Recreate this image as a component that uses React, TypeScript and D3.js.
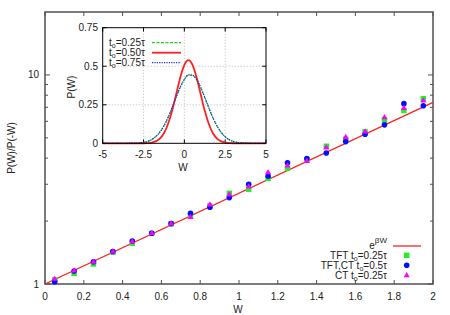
import React from "react";
import * as d3 from "d3";

// main panel: ratio P(W)/P(-W) vs W
const wValues = [0.05, 0.15, 0.25, 0.35, 0.45, 0.55, 0.65, 0.75, 0.85, 0.95, 1.05, 1.15, 1.25, 1.35, 1.45, 1.55, 1.65, 1.75, 1.85, 1.95];
const tftQuarter = [1.048, 1.125, 1.246, 1.42, 1.566, 1.745, 1.94, 2.11, 2.36, 2.716, 2.84, 3.2, 3.58, 3.92, 4.56, 4.93, 5.35, 6.09, 6.75, 7.7];
const tftCtHalf = [1.026, 1.154, 1.278, 1.43, 1.606, 1.75, 1.945, 2.18, 2.33, 2.59, 3.0, 3.28, 3.8, 3.98, 4.23, 4.8, 5.21, 5.77, 7.29, 7.12];
const ctQuarter = [1.057, 1.158, 1.274, 1.425, 1.594, 1.748, 1.942, 2.085, 2.395, 2.67, 2.92, 3.41, 3.68, 3.87, 4.49, 5.03, 5.35, 6.25, 6.92, 7.52];
const fitW = [0, 2];
const fitP = [1, 7.389];
const xTicks = [0, 0.2, 0.4, 0.6, 0.8, 1, 1.2, 1.4, 1.6, 1.8, 2];
const yTicks = [1, 10];
const yMinor = [2, 3, 4, 5, 6, 7, 8, 9];

// inset: P(W)
const insetW = [-5, -4, -3, -2.5, -2, -1.5, -1.25, -1, -0.75, -0.5, -0.25, 0, 0.25, 0.5, 0.75, 1, 1.25, 1.5, 1.75, 2, 2.5, 3, 3.5, 4, 5];
const pQuarter = [0, 0.0001, 0.0012, 0.0061, 0.0238, 0.072, 0.113, 0.167, 0.232, 0.3, 0.364, 0.414, 0.443, 0.441, 0.413, 0.362, 0.297, 0.229, 0.165, 0.112, 0.042, 0.012, 0.0027, 0.0005, 0];
const pHalf = [0, 0, 0, 0.0004, 0.0047, 0.031, 0.065, 0.125, 0.211, 0.318, 0.427, 0.509, 0.54, 0.509, 0.427, 0.318, 0.211, 0.125, 0.065, 0.031, 0.0047, 0.0004, 0, 0, 0];
const pThreeQuarter = [0, 0.0001, 0.0013, 0.0063, 0.024, 0.0725, 0.1135, 0.1675, 0.2325, 0.3005, 0.3645, 0.4145, 0.4435, 0.4415, 0.4135, 0.3625, 0.2975, 0.2295, 0.1655, 0.1125, 0.0425, 0.0122, 0.0028, 0.0005, 0];
const insetXTicks = [-5, -2.5, 0, 2.5, 5];
const insetYTicks = [0, 0.25, 0.5, 0.75];

const font = "'Liberation Sans', Arial, sans-serif";

const App = () => {
  const x = d3.scaleLinear().domain([0, 2]).range([45, 433]);
  const y = d3.scaleLog().domain([1, 20]).range([284, 12]);
  const ix = d3.scaleLinear().domain([-5, 5]).range([102.7, 266]);
  const iy = d3.scaleLinear().domain([0, 0.75]).range([143.3, 27.7]);

  const fitLine = d3.line<number>().x((d, i) => x(fitW[i])).y((d) => y(d));
  const insetLine = d3
    .line<number>()
    .x((d, i) => ix(insetW[i]))
    .y((d) => iy(d))
    .curve(d3.curveMonotoneX);

  const tri = d3.symbol().type(d3.symbolTriangle).size(16)();
  const axisColor = "#505050";

  // t with subscript o
  const sub = (val: string) => (
    <>
      t<tspan dy={2} fontSize={7}>o</tspan>
      <tspan dy={-2}>{val}</tspan>
    </>
  );

  return (
    <div style={{ position: "fixed", left: 0, top: 0 }}>
      <svg width={450} height={315} style={{ fontFamily: font, display: "block" }}>
        <rect width={450} height={315} fill="white" />

        {/* main ticks */}
        {xTicks.map((t) => (
          <g key={"xt" + t}>
            <line x1={x(t)} x2={x(t)} y1={284} y2={280} stroke={axisColor} />
            <line x1={x(t)} x2={x(t)} y1={12} y2={16} stroke={axisColor} />
            <text x={x(t)} y={300} fontSize={10} textAnchor="middle" fill="#222">
              {t}
            </text>
          </g>
        ))}
        {yTicks.map((t) => (
          <g key={"yt" + t}>
            <line x1={45} x2={50} y1={y(t)} y2={y(t)} stroke={axisColor} />
            <line x1={433} x2={428} y1={y(t)} y2={y(t)} stroke={axisColor} />
            <text x={39} y={y(t) + 3.5} fontSize={10} textAnchor="end" fill="#222">
              {t}
            </text>
          </g>
        ))}
        {yMinor.map((t) => (
          <g key={"ym" + t}>
            <line x1={45} x2={48} y1={y(t)} y2={y(t)} stroke={axisColor} />
            <line x1={433} x2={430} y1={y(t)} y2={y(t)} stroke={axisColor} />
          </g>
        ))}
        <rect x={45} y={12} width={388} height={272} fill="none" stroke={axisColor} strokeWidth={1.5} />

        <text x={238} y={313} fontSize={10} textAnchor="middle" fill="#222">W</text>
        <text transform="translate(15,148) rotate(-90)" fontSize={10} textAnchor="middle" fill="#222">
          P(W)/P(-W)
        </text>

        {/* fit line */}
        <path d={fitLine(fitP) ?? ""} fill="none" stroke="#ff2020" strokeWidth={1.3} />

        {/* data points */}
        {tftQuarter.map((v, i) => (
          <rect key={"g" + i} x={x(wValues[i]) - 2.7} y={y(v) - 2.7} width={5.4} height={5.4} fill="#22ee22" />
        ))}
        {tftCtHalf.map((v, i) => (
          <circle key={"b" + i} cx={x(wValues[i])} cy={y(v)} r={2.8} fill="#0010ff" />
        ))}
        {ctQuarter.map((v, i) => (
          <path key={"m" + i} d={tri ?? ""} transform={`translate(${x(wValues[i])},${y(v)})`} fill="#ff00ff" />
        ))}

        {/* main legend */}
        <g fontSize={10} fill="#222" textAnchor="end">
          <text x={387} y={249}>
            e<tspan dy={-6} fontSize={8}>βW</tspan>
          </text>
          <line x1={393} x2={421} y1={246} y2={246} stroke="#ff2020" strokeWidth={1.3} />
          <text x={387} y={258.5}>TFT {sub("=0.25τ")}</text>
          <rect x={404} y={252.6} width={5.4} height={5.4} fill="#22ee22" />
          <text x={387} y={268.5}>TFT,CT {sub("=0.5τ")}</text>
          <circle cx={406.7} cy={265.3} r={2.8} fill="#0010ff" />
          <text x={387} y={278.5}>CT {sub("=0.25τ")}</text>
          <path d={tri ?? ""} transform="translate(406.7,275.5)" fill="#ff00ff" />
        </g>

        {/* inset */}
        <rect x={102.7} y={27.7} width={163.3} height={115.6} fill="white" />
        {insetXTicks.slice(1, -1).map((t) => (
          <line key={"ig" + t} x1={ix(t)} x2={ix(t)} y1={27.7} y2={143.3} stroke="#aaa" strokeWidth={0.8} strokeDasharray="1,2" />
        ))}
        {insetYTicks.slice(1, -1).map((t) => (
          <line key={"igy" + t} x1={102.7} x2={266} y1={iy(t)} y2={iy(t)} stroke="#aaa" strokeWidth={0.8} strokeDasharray="1,2" />
        ))}
        {insetXTicks.map((t) => (
          <g key={"ixt" + t}>
            <line x1={ix(t)} x2={ix(t)} y1={143.3} y2={139.5} stroke="#000" />
            <line x1={ix(t)} x2={ix(t)} y1={27.7} y2={31.5} stroke="#000" />
            <text x={ix(t)} y={158} fontSize={10} textAnchor="middle" fill="#222">
              {t}
            </text>
          </g>
        ))}
        {insetYTicks.map((t) => (
          <g key={"iyt" + t}>
            <line x1={102.7} x2={106.5} y1={iy(t)} y2={iy(t)} stroke="#000" />
            <line x1={266} x2={262.2} y1={iy(t)} y2={iy(t)} stroke="#000" />
            <text x={98} y={iy(t) + 3.5} fontSize={10} textAnchor="end" fill="#222">
              {t}
            </text>
          </g>
        ))}
        <path d={insetLine(pQuarter) ?? ""} fill="none" stroke="#22cc22" strokeWidth={1.2} strokeDasharray="3,1.5" />
        <path d={insetLine(pHalf) ?? ""} fill="none" stroke="#ff2020" strokeWidth={1.8} />
        <path d={insetLine(pThreeQuarter) ?? ""} fill="none" stroke="#1030e0" strokeWidth={1.2} strokeDasharray="1.2,1.2" />
        <rect x={102.7} y={27.7} width={163.3} height={115.6} fill="none" stroke="#000" strokeWidth={1} />

        <text x={183} y={171} fontSize={10} textAnchor="middle" fill="#222">W</text>
        <text transform="translate(75,87) rotate(-90)" fontSize={10} textAnchor="middle" fill="#222">
          P(W)
        </text>

        {/* inset legend */}
        <g fontSize={10} fill="#222">
          <text x={109} y={46}>{sub("=0.25τ")}</text>
          <line x1={152} x2={181} y1={42.7} y2={42.7} stroke="#22cc22" strokeWidth={1.2} strokeDasharray="3,1.5" />
          <text x={109} y={56}>{sub("=0.50τ")}</text>
          <line x1={152} x2={181} y1={52.7} y2={52.7} stroke="#ff2020" strokeWidth={1.8} />
          <text x={109} y={66}>{sub("=0.75τ")}</text>
          <line x1={152} x2={181} y1={62.7} y2={62.7} stroke="#1030e0" strokeWidth={1.2} strokeDasharray="1.2,1.2" />
        </g>
      </svg>
    </div>
  );
};

export default App;
